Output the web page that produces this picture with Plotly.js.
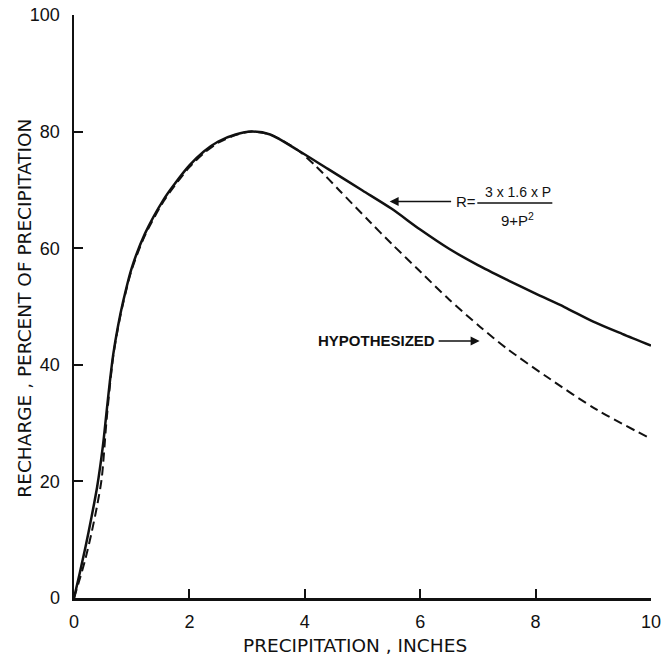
<!DOCTYPE html>
<html>
<head>
<meta charset="utf-8">
<script src="https://cdn.plot.ly/plotly-3.0.1.min.js"></script>
<style>html,body{margin:0;padding:0;background:#fff;}#chart{width:669px;height:658px;}</style>
</head>
<body>
<div id="chart"></div>
<script>
// Values
const formulaP = [0, 0.1, 0.2, 0.3, 0.4, 0.5, 0.56, 0.62, 0.68, 0.76, 0.85, 1.0, 1.23, 1.55, 1.75, 2.0, 2.25, 2.5, 2.8, 3.08, 3.4, 3.88, 4.4, 5.0, 5.5, 6.0, 6.5, 7.0, 7.5, 8.0, 8.5, 9.0, 9.5, 10];
const formulaR = [0, 4.3, 8.8, 13.7, 19, 26, 31.5, 37, 41.8, 46.5, 50.8, 56.6, 62.5, 68.3, 71.1, 74.2, 76.6, 78.3, 79.5, 80, 79.5, 76.8, 73.6, 69.9, 66.8, 63.2, 59.9, 57.1, 54.6, 52.2, 49.9, 47.4, 45.3, 43.3];

const hypoP = [0, 0.11, 0.2, 0.3, 0.4, 0.48, 0.56, 0.62, 0.68, 0.76, 0.85, 1.0, 1.23, 1.55, 1.75, 2.0, 2.25, 2.5, 2.8, 3.08, 3.4, 3.88, 4.2, 4.6, 5.13, 5.5, 6.0, 6.5, 7.04, 7.5, 8.2, 9.06, 10];
const hypoR = [0, 3.6, 6.8, 11, 15.8, 20.5, 30, 36.2, 41.5, 46.2, 50.5, 56.3, 62.2, 68.0, 70.8, 73.9, 76.3, 78.1, 79.4, 80, 79.5, 76.8, 74.0, 69.9, 64.5, 60.8, 56.0, 51.2, 46.5, 42.8, 37.9, 32.3, 27.3];

const xTicks = [0, 2, 4, 6, 8, 10];
const yTicks = [0, 20, 40, 60, 80, 100];

const FONT = '"Liberation Sans", Arial, sans-serif';
const TFONT = '"DejaVu Sans", "Liberation Sans", sans-serif';
const INK = '#111';

const traces = [
  {x: formulaP, y: formulaR, mode: 'lines', type: 'scatter', line: {color: INK, width: 2.5, shape: 'spline', smoothing: 0.8}, hoverinfo: 'skip'},
  {x: hypoP, y: hypoR, mode: 'lines', type: 'scatter', line: {color: INK, width: 2, dash: '9px,5px', shape: 'spline', smoothing: 0.8}, hoverinfo: 'skip'}
];

const layout = {
  width: 669, height: 658,
  margin: {l: 74, r: 18, t: 15, b: 60},
  paper_bgcolor: '#fff', plot_bgcolor: '#fff',
  showlegend: false,
  font: {family: FONT, color: INK},
  xaxis: {
    range: [0, 10], tickvals: xTicks, ticktext: xTicks.map(String),
    ticks: 'inside', ticklen: 9, tickwidth: 2, tickcolor: INK,
    showline: true, linecolor: INK, linewidth: 2.5, mirror: false,
    showgrid: false, zeroline: false,
    tickfont: {family: FONT, size: 18, color: INK}, ticklabelstandoff: 6
  },
  yaxis: {
    range: [0, 100], tickvals: yTicks, ticktext: yTicks.map(String),
    ticks: 'inside', ticklen: 9, tickwidth: 2, tickcolor: INK,
    showline: true, linecolor: INK, linewidth: 2.5, mirror: false,
    showgrid: false, zeroline: false,
    tickfont: {family: FONT, size: 18, color: INK}, ticklabelstandoff: 8
  },
  shapes: [
    {type: 'line', xref: 'x', yref: 'y', x0: 6.99, x1: 8.29, y0: 67.75, y1: 67.75, line: {color: INK, width: 1.5}}
  ],
  annotations: [
    {xref: 'paper', yref: 'paper', x: 0.487, y: -0.082, text: 'PRECIPITATION , INCHES', showarrow: false, font: {family: TFONT, size: 18.5, color: INK}, xanchor: 'center', yanchor: 'middle'},
    {xref: 'paper', yref: 'paper', x: -0.086, y: 0.497, text: 'RECHARGE , PERCENT OF PRECIPITATION', textangle: -90, showarrow: false, font: {family: TFONT, size: 18.5, color: INK}, xanchor: 'center', yanchor: 'middle'},
    {xref: 'x', yref: 'y', x: 5.47, y: 68.0, ax: 76, ay: 0, text: 'R=', showarrow: true, arrowhead: 2, arrowsize: 1.2, arrowwidth: 1.5, arrowcolor: INK, font: {size: 15, color: INK}, borderpad: 4},
    {xref: 'x', yref: 'y', x: 7.70, y: 69.6, text: '3 x 1.6 x P', showarrow: false, font: {size: 14, color: INK}, yanchor: 'middle'},
    {xref: 'x', yref: 'y', x: 7.69, y: 65.0, text: '9+P<sup>2</sup>', showarrow: false, font: {size: 15, color: INK}, yanchor: 'middle'},
    {xref: 'x', yref: 'y', x: 7.03, y: 44.1, ax: -103, ay: 0, text: '<b>HYPOTHESIZED</b>', showarrow: true, arrowhead: 2, arrowsize: 1.2, arrowwidth: 1.5, arrowcolor: INK, font: {size: 15, color: INK}, borderpad: 3}
  ]
};

Plotly.newPlot('chart', traces, layout, {staticPlot: true, displayModeBar: false});
</script>
</body>
</html>
